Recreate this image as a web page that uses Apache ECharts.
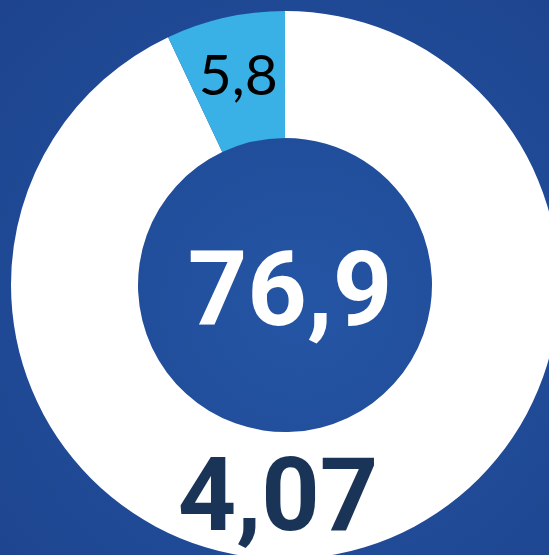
<!DOCTYPE html>
<html>
<head>
<meta charset="utf-8">
<title>donut</title>
<style>
  html, body { margin: 0; padding: 0; }
  #chart1 { width: 549px; height: 555px; }
</style>
</head>
<body>
<div id="chart1"></div>
<script src="https://cdn.jsdelivr.net/npm/echarts@6/dist/echarts.min.js"></script>
<script type="text/javascript">
    // data
    var sliceNames = ['rest', 'share'];
    var sliceValues = [76.9, 5.8];
    var sliceColors = ['#ffffff', '#39b0e6'];
    var centerValue = 76.9;
    var bottomValue = '4,07';

    function comma(v) {
        return String(v).replace('.', ',');
    }

    var myChart = echarts.init(document.getElementById('chart1'));

    var pieData = sliceNames.map(function (n, i) {
        return {
            name: n,
            value: sliceValues[i],
            itemStyle: { color: sliceColors[i] },
            label: { show: i === 1 }
        };
    });

    var option = {
        backgroundColor: {
            type: 'radial', x: 0.55, y: 0.55, r: 0.8,
            colorStops: [
                { offset: 0, color: '#2455a4' },
                { offset: 1, color: '#1d438d' }
            ]
        },
        title: [{
            text: comma(centerValue),
            left: 285, top: 294,
            textAlign: 'center', textVerticalAlign: 'middle',
            textStyle: {
                color: '#ffffff', fontSize: 104, fontWeight: 'bold',
                fontFamily: 'Roboto'
            }
        }, {
            text: bottomValue,
            left: 273, top: 499,
            textAlign: 'center', textVerticalAlign: 'middle',
            textStyle: {
                color: '#1a3457', fontSize: 102, fontWeight: 'bold',
                fontFamily: 'Roboto'
            }
        }],
        series: [{
            type: 'pie',
            center: [285, 285],
            radius: [147, 274],
            startAngle: 90,
            clockwise: true,
            silent: true,
            animation: false,
            label: {
                position: 'inside',
                formatter: function (p) { return comma(p.value); },
                color: '#000000',
                fontSize: 57,
                fontWeight: 'normal',
                fontFamily: 'Lato'
            },
            labelLine: { show: false },
            data: pieData
        }]
    };

    myChart.setOption(option);
</script>
</body>
</html>
